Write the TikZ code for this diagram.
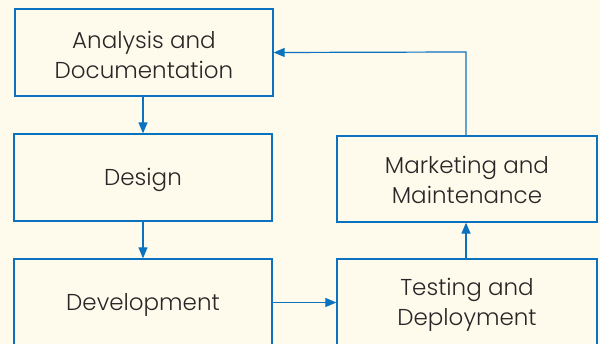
\documentclass[tikz,border=0pt]{standalone}
\usepackage{fontspec}
\setmainfont{Poppins Light}
\usetikzlibrary{arrows.meta}
\definecolor{bg}{HTML}{FFFBEC}
\definecolor{ln}{HTML}{0B72C0}
\definecolor{tx}{HTML}{2A2627}
\tikzset{
  box/.style={draw=ln, line width=1.3pt, minimum width=258pt, minimum height=87pt, inner sep=0pt},
  lbl/.style={align=center, text=tx, font=\fontsize{23}{30}\selectfont, yshift=-2pt, inner sep=0pt},
  conn/.style={draw=ln, line width=1.2pt, -{Triangle[length=11pt,width=9pt]}}
}
\begin{document}
\begin{tikzpicture}[x=1pt,y=-1pt]
\useasboundingbox (0,0) rectangle (600,344);
\fill[bg] (0,0) rectangle (600,344);
\clip (0,0) rectangle (600,344);
\node[box, label={[lbl]center:{Analysis and\\Documentation}}] (A) at (144,52.5) {};
\node[box, label={[lbl]center:{Design}}] (D) at (143,177.5) {};
\node[box, label={[lbl]center:{Development}}] (V) at (143,302.5) {};
\node[box, minimum width=260pt, label={[lbl]center:{Testing and\\Deployment}}] (T) at (467,302.5) {};
\node[box, minimum width=260pt, minimum height=86pt, label={[lbl, yshift=1pt]center:{Marketing and\\Maintenance}}] (M) at (467,179) {};
\draw[conn] (A.south -| D.north) -- (D.north);
\draw[conn] (D) -- (V);
\draw[conn] (V.east) -- (V.east -| T.west);
\draw[conn] (T.north -| 466,0) -- (M.south -| 466,0);
\draw[conn] (M.north -| 466,0) -- (466,52) -- (A.east);
\end{tikzpicture}
\end{document}
